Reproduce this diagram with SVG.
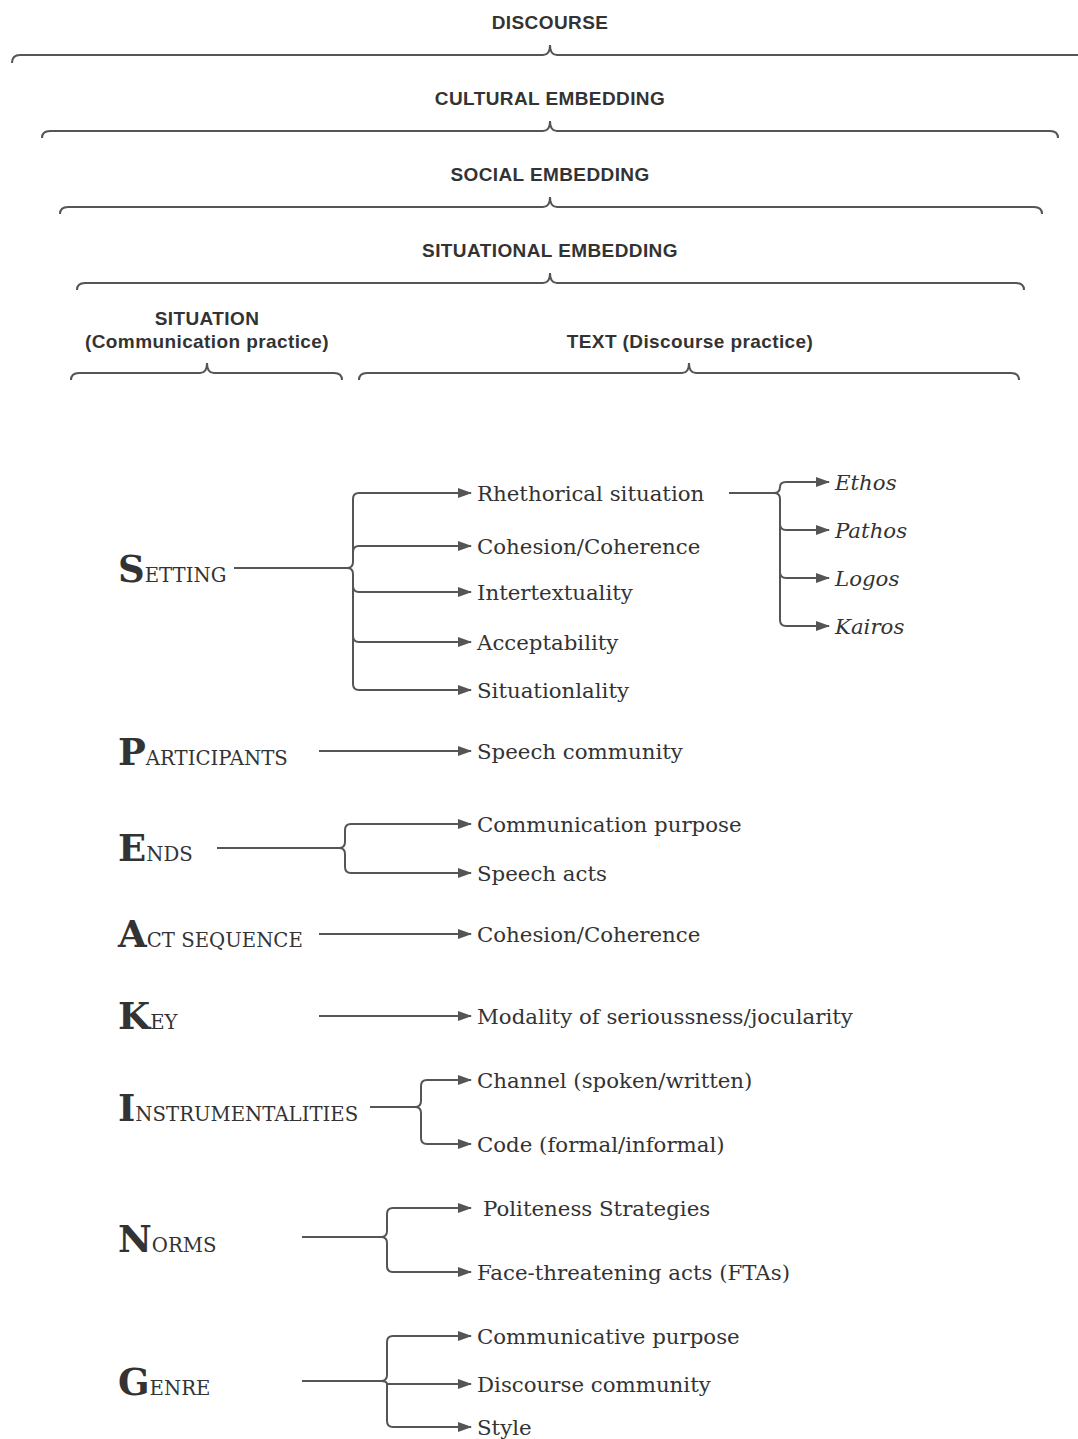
<svg xmlns="http://www.w3.org/2000/svg" width="1078" height="1439" viewBox="0 0 1078 1439">
<style>
.h{font-family:"Liberation Sans",Arial,sans-serif;font-weight:bold;font-size:19px;fill:#333;text-anchor:middle;letter-spacing:0.4px}
.br{fill:none;stroke:#555;stroke-width:2}
.c{fill:none;stroke:#555;stroke-width:2}
.t{font-family:"DejaVu Serif",serif;font-size:21.3px;fill:#333;dominant-baseline:central}
.i{font-family:"DejaVu Serif",serif;font-size:21.3px;font-style:italic;fill:#333;dominant-baseline:central}
.big{font-family:"DejaVu Serif",serif;font-weight:bold;font-size:37px;fill:#333}
.sm{font-family:"DejaVu Serif",serif;font-size:19.7px;fill:#333}
</style>
<defs>
<marker id="a" markerWidth="14" markerHeight="10" refX="13" refY="5" orient="auto" markerUnits="userSpaceOnUse">
<path d="M0,0 L14,5 L0,10 Z" fill="#555"/>
</marker>
</defs>
<rect width="1078" height="1439" fill="#fff"/>

<g id="braces">
<g id="discourse"><text class="h" x="550" y="29">DISCOURSE</text>
<path class="br" d="M12,63 Q12,55 20,55 L543,55 Q550,55 550,45 Q550,55 557,55 L1078,55"/></g>
<g id="cultural"><text class="h" x="550" y="105">CULTURAL EMBEDDING</text>
<path class="br" d="M42,138 Q42,131 50,131 L543,131 Q550,131 550,121 Q550,131 557,131 L1050,131 Q1058,131 1058,138"/></g>
<g id="social"><text class="h" x="550" y="181">SOCIAL EMBEDDING</text>
<path class="br" d="M60,214 Q60,207 68,207 L543,207 Q550,207 550,197 Q550,207 557,207 L1034,207 Q1042,207 1042,214"/></g>
<g id="situational"><text class="h" x="550" y="257">SITUATIONAL EMBEDDING</text>
<path class="br" d="M77,290 Q77,283 85,283 L543,283 Q550,283 550,273 Q550,283 557,283 L1016,283 Q1024,283 1024,290"/></g>
<g id="situation"><text class="h" x="207" y="325">SITUATION</text><text class="h" x="207" y="348">(Communication practice)</text>
<path class="br" d="M71,380 Q71,373 79,373 L200,373 Q207,373 207,363 Q207,373 214,373 L334,373 Q342,373 342,380"/></g>
<g id="text"><text class="h" x="690" y="348">TEXT (Discourse practice)</text>
<path class="br" d="M359,380 Q359,373 367,373 L682,373 Q689,373 689,363 Q689,373 696,373 L1011,373 Q1019,373 1019,380"/></g>
</g>

<g id="connectors">
<path class="c" d="M234,568 L347,568 Q353,568 353,562 L353,499 Q353,493 359,493 L471,493" marker-end="url(#a)"/>
<path class="c" d="M353,562 L353,552 Q353,546 359,546 L471,546" marker-end="url(#a)"/>
<path class="c" d="M347,568 Q353,568 353,574 L353,586 Q353,592 359,592 L471,592" marker-end="url(#a)"/>
<path class="c" d="M353,586 L353,636 Q353,642 359,642 L471,642" marker-end="url(#a)"/>
<path class="c" d="M353,636 L353,684 Q353,690 359,690 L471,690" marker-end="url(#a)"/>
<path class="c" d="M729,493 L774,493 Q780,493 780,487 Q780,482 786,482 L829,482" marker-end="url(#a)"/>
<path class="c" d="M774,493 Q780,493 780,499 L780,524 Q780,530 786,530 L829,530" marker-end="url(#a)"/>
<path class="c" d="M780,524 L780,572 Q780,578 786,578 L829,578" marker-end="url(#a)"/>
<path class="c" d="M780,572 L780,620 Q780,626 786,626 L829,626" marker-end="url(#a)"/>
<path class="c" d="M319,751 L471,751" marker-end="url(#a)"/>
<path class="c" d="M217,848 L339,848 Q345,848 345,842 L345,830 Q345,824 351,824 L471,824" marker-end="url(#a)"/>
<path class="c" d="M339,848 Q345,848 345,854 L345,867 Q345,873 351,873 L471,873" marker-end="url(#a)"/>
<path class="c" d="M319,934 L471,934" marker-end="url(#a)"/>
<path class="c" d="M319,1016 L471,1016" marker-end="url(#a)"/>
<path class="c" d="M370,1107 L415,1107 Q421,1107 421,1101 L421,1086 Q421,1080 427,1080 L471,1080" marker-end="url(#a)"/>
<path class="c" d="M415,1107 Q421,1107 421,1113 L421,1138 Q421,1144 427,1144 L471,1144" marker-end="url(#a)"/>
<path class="c" d="M302,1237 L381,1237 Q387,1237 387,1231 L387,1214 Q387,1208 393,1208 L471,1208" marker-end="url(#a)"/>
<path class="c" d="M381,1237 Q387,1237 387,1243 L387,1266 Q387,1272 393,1272 L471,1272" marker-end="url(#a)"/>
<path class="c" d="M302,1381 L381,1381 Q387,1381 387,1375 L387,1342 Q387,1336 393,1336 L471,1336" marker-end="url(#a)"/>
<path class="c" d="M381,1381 Q387,1381 387,1384 L471,1384" marker-end="url(#a)"/>
<path class="c" d="M387,1384 L387,1421 Q387,1427 393,1427 L471,1427" marker-end="url(#a)"/>
</g>

<g id="setting"><text x="118" y="582"><tspan class="big">S</tspan><tspan class="sm">ETTING</tspan></text></g>
<g id="participants"><text x="118" y="765"><tspan class="big">P</tspan><tspan class="sm">ARTICIPANTS</tspan></text></g>
<g id="ends"><text x="118" y="861"><tspan class="big">E</tspan><tspan class="sm">NDS</tspan></text></g>
<g id="act"><text x="118" y="947"><tspan class="big">A</tspan><tspan class="sm">CT SEQUENCE</tspan></text></g>
<g id="key"><text x="118" y="1029"><tspan class="big">K</tspan><tspan class="sm">EY</tspan></text></g>
<g id="instr"><text x="118" y="1121"><tspan class="big">I</tspan><tspan class="sm">NSTRUMENTALITIES</tspan></text></g>
<g id="norms"><text x="118" y="1252"><tspan class="big">N</tspan><tspan class="sm">ORMS</tspan></text></g>
<g id="genre"><text x="118" y="1395"><tspan class="big">G</tspan><tspan class="sm">ENRE</tspan></text></g>

<g id="n-rhet"><text class="t" x="477" y="493">Rhethorical situation</text></g>
<g id="n-coh1"><text class="t" x="477" y="546">Cohesion/Coherence</text></g>
<g id="n-inter"><text class="t" x="477" y="592">Intertextuality</text></g>
<g id="n-acc"><text class="t" x="477" y="642">Acceptability</text></g>
<g id="n-sit"><text class="t" x="477" y="690">Situationlality</text></g>
<g id="n-ethos"><text class="i" x="835" y="482">Ethos</text></g>
<g id="n-pathos"><text class="i" x="835" y="530">Pathos</text></g>
<g id="n-logos"><text class="i" x="835" y="578">Logos</text></g>
<g id="n-kairos"><text class="i" x="835" y="626">Kairos</text></g>
<g id="n-speechc"><text class="t" x="477" y="751">Speech community</text></g>
<g id="n-commp"><text class="t" x="477" y="824">Communication purpose</text></g>
<g id="n-acts"><text class="t" x="477" y="873">Speech acts</text></g>
<g id="n-coh2"><text class="t" x="477" y="934">Cohesion/Coherence</text></g>
<g id="n-mod"><text class="t" x="477" y="1016">Modality of serioussness/jocularity</text></g>
<g id="n-chan"><text class="t" x="477" y="1080">Channel (spoken/written)</text></g>
<g id="n-code"><text class="t" x="477" y="1144">Code (formal/informal)</text></g>
<g id="n-polite"><text class="t" x="483" y="1208">Politeness Strategies</text></g>
<g id="n-fta"><text class="t" x="477" y="1272">Face-threatening acts (FTAs)</text></g>
<g id="n-cpurp"><text class="t" x="477" y="1336">Communicative purpose</text></g>
<g id="n-dcomm"><text class="t" x="477" y="1384">Discourse community</text></g>
<g id="n-style"><text class="t" x="477" y="1427">Style</text></g>
</svg>
